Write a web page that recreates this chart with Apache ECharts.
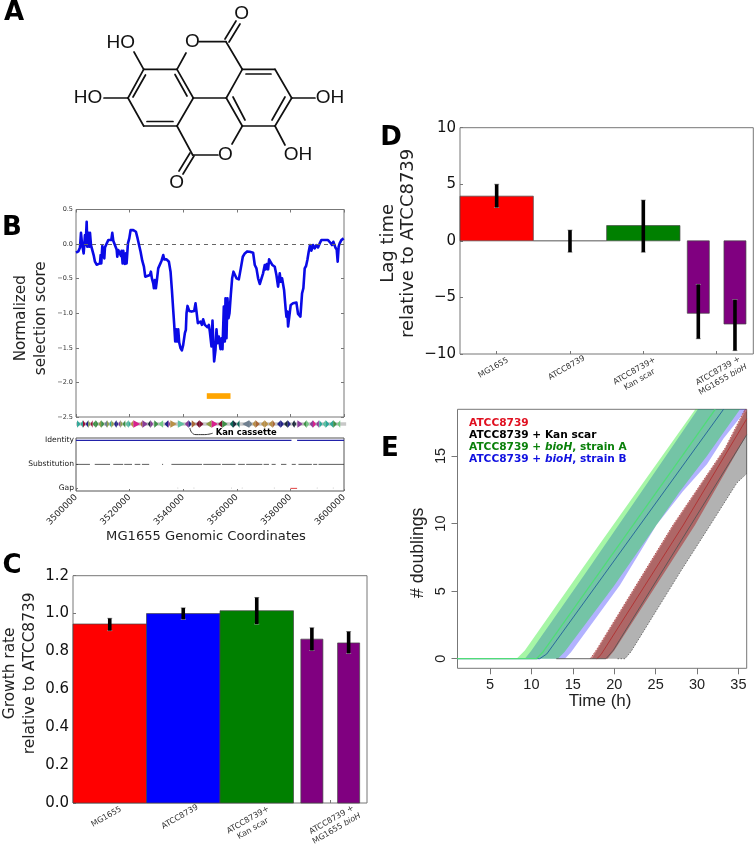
<!DOCTYPE html>
<html><head><meta charset="utf-8">
<style>html,body{margin:0;padding:0;background:#fff}#c{width:754px;height:845px}</style>
<script src="https://cdn.jsdelivr.net/npm/echarts@6/dist/echarts.min.js"></script></head>
<body><div id="c"></div>
<script>
// ---------- Panel B: selection score, [position kb, normalized score]
const scoreTrace=[[3500,-.125],[3500.87,-.106],[3501.49,-.048],[3501.86,.163],[3502.24,.01],[3502.86,-.135],[3503.35,.13],[3503.6,-.014],[3503.98,.322],[3504.22,-.038],[3504.6,.163],[3504.97,-.038],[3505.22,.163],[3505.59,-.014],[3506.09,-.038],[3506.58,-.159],[3507.08,-.255],[3507.7,-.298],[3508.32,-.288],[3508.94,-.279],[3509.19,-.159],[3509.44,-.279],[3509.81,-.029],[3510.19,-.087],[3510.56,-.207],[3510.81,-.048],[3511.43,-.029],[3512.05,.058],[3512.67,.067],[3513.17,.058],[3513.54,.163],[3513.91,.048],[3514.53,.024],[3515.16,-.077],[3515.4,-.183],[3515.78,-.087],[3516.4,-.096],[3516.77,-.173],[3517.02,-.096],[3517.39,-.279],[3517.64,-.096],[3518.01,-.111],[3518.26,-.288],[3518.63,-.135],[3518.88,-.279],[3519.38,.01],[3519.88,.082],[3520.37,.202],[3521.37,.202],[3522.36,.178],[3522.98,.082],[3523.6,.058],[3524.1,-.111],[3524.72,-.24],[3525.34,-.327],[3525.84,-.471],[3526.58,-.447],[3527.58,-.447],[3527.95,-.399],[3528.32,-.495],[3528.82,-.567],[3529.07,-.639],[3529.44,-.519],[3529.81,-.639],[3530.19,-.519],[3530.68,-.351],[3531.3,-.327],[3531.93,-.24],[3532.55,-.159],[3532.92,-.221],[3533.79,-.221],[3534.66,-.255],[3535.28,-.399],[3535.78,-.663],[3536.27,-.952],[3536.65,-1.168],[3537.02,-1.409],[3537.39,-1.231],[3537.76,-1.409],[3538.14,-1.231],[3538.51,-1.423],[3539.01,-1.505],[3539.5,-1.538],[3540,-1.457],[3540.62,-1.288],[3540.99,-1.24],[3541.24,-1],[3541.61,-.894],[3542.24,-.966],[3543.11,-.976],[3544.1,-.966],[3544.6,-.856],[3544.97,-.976],[3545.47,-1.144],[3545.96,-1.168],[3546.46,-1.12],[3546.96,-1.168],[3547.45,-1.087],[3548.07,-1.168],[3548.7,-1.168],[3549.07,-1.202],[3549.57,-1.168],[3549.94,-1.264],[3550.56,-1.481],[3550.93,-1.106],[3551.3,-1.481],[3551.55,-1.697],[3552.05,-1.529],[3552.42,-1.231],[3552.8,-1.433],[3553.29,-1.337],[3553.91,-1.519],[3554.29,-1.361],[3554.66,-1.519],[3555.16,-.904],[3555.53,-1.409],[3555.78,-.784],[3556.15,-1.361],[3556.52,-.784],[3556.89,-1.072],[3557.27,-1],[3557.76,-.736],[3558.26,-.495],[3558.76,-.399],[3559.25,-.375],[3559.88,-.495],[3560.75,-.51],[3561.49,-.351],[3562.24,-.183],[3562.98,-.135],[3563.85,-.106],[3564.84,-.111],[3566.09,-.125],[3566.71,-.303],[3567.33,-.351],[3567.95,-.495],[3568.57,-.577],[3569.19,-.567],[3569.81,-.423],[3570.43,-.303],[3570.81,-.365],[3571.18,-.288],[3571.68,-.365],[3572.05,-.221],[3572.67,-.231],[3573.29,-.303],[3574.16,-.327],[3574.78,-.447],[3575.4,-.615],[3576.02,-.423],[3576.4,-.543],[3576.89,-.495],[3577.64,-.663],[3578.26,-.952],[3578.51,-1.048],[3578.88,-.976],[3579.13,-1.192],[3579.75,-1.192],[3580.12,-.88],[3580.99,-.856],[3582.24,-.846],[3582.86,-1.01],[3583.73,-1.048],[3584.35,-.712],[3584.84,-.639],[3585.34,-.351],[3585.84,-.317],[3586.33,-.231],[3586.83,-.111],[3587.33,-.014],[3587.83,-.096],[3588.45,-.014],[3589.07,-.063],[3589.69,-.014],[3590.31,-.048],[3590.93,.01],[3591.55,.058],[3592.8,.058],[3594.04,.058],[3594.91,.019],[3595.53,-.014],[3596.02,.034],[3596.77,-.048],[3597.27,-.077],[3597.64,-.255],[3598.01,-.038],[3598.39,.01],[3599.01,.058],[3599.88,.082]];
const kanCassetteRegion=[3548.8,3557.65,-2.156,-2.238];
const kanCurve=[[3542.5,4],[3543.2,8.5],[3544.8,10.6],[3548,10.6],[3551.0,9.2]];
// genes: [start kb, end kb, strand, colour]
const t='#2fa898',c='#981038',n='#242488',g='#3f9048',o='#8c9c48',m='#d8208c',b='#a86838',p='#883c98',l='#74c884',T='#b89048',q='#60c0a0',y='#708090',d='#1c2c3c',e='#0c6858',r='#781030';
const genes=[[.4,1.7,1,t],[1.7,2.6,-1,t],[2.6,3.6,1,c],[3.6,4.6,-1,n],[4.6,5.4,1,o],[5.4,6.2,-1,c],[6.2,7.4,-1,g],[7.4,8.4,1,g],[8.4,9.4,-1,o],[9.4,10.6,1,g],[10.6,11.6,-1,y],[11.6,12.4,1,o],[12.4,13.2,-1,t],[13.2,14.2,1,o],[14.2,15,-1,n],[15,15.8,1,n],[15.8,16.6,-1,p],[16.6,17.4,1,o],[17.4,18.4,-1,g],[18.4,19.6,-1,q],[19.6,20.4,1,t],[20.4,21.4,-1,T],[21.4,24,1,m],[24,24.8,-1,b],[24.8,26.8,1,p],[26.8,27.8,-1,d],[27.8,28.8,1,p],[29.2,30.8,1,g],[30.8,32.5,-1,l],[33,34.4,-1,n],[34.4,35.2,1,p],[35.2,37.6,1,T],[38,40.6,1,q],[40.6,42,-1,p],[42,43.2,1,n],[43.2,44.8,1,b],[44.8,46,-1,r],[46,47.6,1,r],[48.4,50.6,-1,o],[50.6,53,1,m],[53,54.6,-1,r],[54.6,56.6,1,g],[57.4,58.6,-1,e],[58.6,60,1,d],[60,61,-1,e],[62,64.6,-1,y],[64.6,65.8,1,y],[65.8,67,-1,T],[67,68.6,1,b],[69,70.4,-1,T],[70.4,71.8,1,T],[71.8,73.4,-1,T],[73.4,74.4,1,b],[75,76.4,-1,n],[76.4,77.6,1,n],[77.6,79,-1,d],[79,80.2,1,n],[80.6,81.4,-1,d],[81.4,82.2,1,d],[82.6,84.6,1,p],[84.8,86,-1,g],[86,87,1,l],[87.2,88.4,-1,p],[88.4,89.6,1,m],[89.6,90.6,-1,p],[90.8,92,1,t],[92,93.2,-1,q],[93.2,94.6,1,t],[94.6,96,-1,t],[96,97.4,1,g],[97.4,98.6,-1,l]];
// alignment rows
const identityRanges=[[3500,3580.4],[3582.5,3600]];
const substitutionRanges=[[3500,3505.2],[3507,3512.7],[3513.9,3517.6],[3518,3520.9],[3521.9,3524],[3524.6,3527.3],[3532.1,3532.5],[3535.6,3547],[3547.5,3554],[3554.5,3559.5],[3560.5,3563],[3563.5,3569.5],[3570,3572],[3573,3574.5],[3576.5,3578.5],[3580.5,3582],[3583,3588],[3588.5,3590],[3590.5,3600]];
const gapRanges=[[3580,3582.5]];
const gapDots=[3538,3544,3558,3562,3574,3590,3596];
const alignmentRows=['Gap','Substitution','Identity'];

// ---------- Panels C and D: bars
const barLeft=[0,1,2,3.1,3.6], barRight=[1,2,3,3.4,3.9], barCentre=[.5,1.5,2.5,3.25,3.75];
const barColours=['#ff0000','#0000ff','#008000','#800080','#800080'];
const strainTicks=[.5,1.5,2.5,3.5];
const NB='\u00a0';
const strainLabels=['MG1655'+NB.repeat(3),'ATCC8739'+NB.repeat(3),'\nATCC8739+'+NB.repeat(8)+'\nKan scar'+NB.repeat(8),'\n\nATCC8739 +'+NB+'\nMG1655 {i|bioH}'+NB];
const growthRate=[.945,1,1.015,.865,.845], growthLow=[.91,.97,.945,.805,.79], growthHigh=[.975,1.03,1.085,.925,.905];
const lagTime=[3.95,0,1.35,-6.4,-7.35], lagLow=[2.95,-1,-1,-8.65,-9.7], lagHigh=[5,.95,3.6,-3.85,-5.2];

// ---------- Panel E: growth curves [time h, doublings]
const greenUpper=[[8.2,0],[9.2,.6],[16.3,6.8],[23,12.6],[29.8,18.46]];
const greenLower=[[13.2,0],[14,.5],[19.9,5.33],[27.95,12.4],[31.2,15],[33.5,17],[35.2,18.46]];
const blueUpper=[[9.2,0],[10,.6],[16.5,6.3],[23,12.1],[30.1,18.46]];
const blueLower=[[14.05,0],[14.8,.5],[20.7,5.46],[25.1,9.9],[28.3,12.4],[31.2,14.4],[33.2,16.3],[36,18.46]];
const redUpper=[[17.1,0],[17.9,.7],[27.1,9.9],[33.4,15.6],[35.8,18.46]];
const redLower=[[19.2,0],[20,.6],[29.76,9.9],[36,16.57],[36,18.46]];
const greyUpper=[[17.3,0],[18,.7],[27.2,9.9],[33.4,15.5],[35.8,18.3]];
const greyLower=[[21.3,0],[22,.5],[27.95,6.4],[31.6,9.9],[34.8,13],[36,13.7],[36,18.3]];
const greyLowerEdge=[[20.4,0],[21.3,0],[22,.5],[27.95,6.4],[31.6,9.9],[34.8,13],[36,13.7]];
const redMedian=[[17.9,0],[18.4,.3],[28.35,9.9],[36,17.75]];
const blackMedian=[[13,0],[19,0],[19.9,.64],[36,16.57]];
const greenMedian=[[1,0],[10.6,0],[11.4,.5],[32.2,18.46]];
const blueMedian=[[1,0],[11,0],[11.85,.35],[33.2,18.46]];

// ---------- Panel A: ellagic acid skeleton drawing units
const molBonds=[[143.7,69.3,177,69.3],[177,69.3,193.3,98],[193.3,98,177,126],[177,126,143.7,126],[143.7,126,128,98],[128,98,143.7,69.3],
[193.3,98,226.3,98],[226.3,98,242.3,69.3],[242.3,69.3,275,69.3],[275,69.3,291.7,98],[291.7,98,275,126],[275,126,242.3,126],[242.3,126,226.3,98],
[145.5,75,133,97],[175,74.5,187,96],[147,121.5,173,121.5],[246,74,271,74],[285,97,272,120],[233,97,245,120],
[177,69.3,186,53],[199,41.7,226,41.7],[226,41.7,242.3,69.3],[225,39,236,21],[229,42,240,24],
[242.3,126,232,144],[218,155,192.7,155],[192.7,155,177,126],[190,153,179,171],[194,156,183,174],
[143.7,69.3,134,52],[128,98,104,98],[291.7,98,315,98],[275,126,285,145]];
const molAtoms=[['HO',120.7,42.3],['HO',88,98],['OH',330,98],['OH',298,155],['O',192.3,41.7],['O',241.7,14],['O',225.3,155],['O',176.7,183]];

// ---------- helpers
const DJ='DejaVu Sans', LS='Liberation Sans';
const grids=[],xAxes=[],yAxes=[],series=[];
const EDGE='#777';
function panel(box,xo,yo,opt){
  opt=opt||{};
  const gi=grids.length;
  grids.push(Object.assign({show:!opt.noBox,outerBoundsMode:'none',borderColor:opt.edge||EDGE,borderWidth:1,backgroundColor:'transparent'},box));
  const base={gridIndex:gi,type:'value',splitLine:{show:false},axisLine:{show:false,onZero:false}};
  const xi=xAxes.length, yi=yAxes.length;
  xAxes.push(Object.assign({},base,{position:'bottom'},xo));
  yAxes.push(Object.assign({},base,{position:'left'},yo));
  if(opt.mirror){
    const hide={axisLabel:{show:false},name:'',position:'top'};
    xAxes.push(Object.assign({},base,xo,hide,{axisTick:{inside:true,length:3,lineStyle:{color:EDGE}}}));
    yAxes.push(Object.assign({},base,yo,hide,{position:'right',axisTick:{inside:true,length:3,lineStyle:{color:EDGE}}}));
  }
  return {xAxisIndex:xi,yAxisIndex:yi};
}
const hiddenAxis={show:false};
const minus=s=>String(s).replace('-','\u2212');
function segments(ranges,row){const out=[];ranges.forEach(r=>{out.push([r[0],row],[r[1],row],[null,null]);});return out;}
function poly(upper,lower){return upper.concat(lower.slice().reverse());}
function bandSeries(ax,upper,lower,fill,z){
  const pts=poly(upper,lower);
  return Object.assign({type:'custom',silent:true,z:z,data:[[0,0]],renderItem(p,api){
    return {type:'polygon',shape:{points:pts.map(q=>api.coord(q))},style:{fill:fill}};
  }},ax);
}

// Panel A
{const ax=panel({left:70,top:0,width:280,height:200},Object.assign({},hiddenAxis,{min:70,max:350}),Object.assign({},hiddenAxis,{min:0,max:200,inverse:true}),{noBox:true});
series.push(Object.assign({type:'custom',silent:true,data:molBonds,renderItem(p,api){
  const a=api.coord([api.value(0),api.value(1)]),b2=api.coord([api.value(2),api.value(3)]);
  return {type:'line',shape:{x1:a[0],y1:a[1],x2:b2[0],y2:b2[1]},style:{stroke:'#111',lineWidth:1.7,lineCap:'round'}};
}},ax));
series.push(Object.assign({type:'custom',silent:true,z:3,data:molAtoms.map(a=>[a[1],a[2],a[0]]),renderItem(p,api){
  const q=api.coord([api.value(0),api.value(1)]);
  return {type:'text',x:q[0],y:q[1],style:{text:molAtoms[p.dataIndex][0],fill:'#111',font:'19px "Liberation Sans"',align:'center',verticalAlign:'middle',backgroundColor:'transparent'}};
}},ax));}

// Panel B top
{const ax=panel({left:76,top:209.5,width:268,height:207.5},
 {min:3500,max:3600,interval:20,axisLabel:{show:false},axisTick:{inside:true,length:3,lineStyle:{color:EDGE}}},
 {min:-2.5,max:.5,interval:.5,axisTick:{inside:true,length:3,lineStyle:{color:EDGE}},
  axisLabel:{fontFamily:DJ,fontSize:6.5,color:'#333',margin:3,formatter:v=>minus(v.toFixed(1))},
  name:'Normalized\nselection score',nameLocation:'middle',nameRotate:90,nameGap:25,
  nameTextStyle:{fontFamily:DJ,fontSize:15.2,color:'#222',lineHeight:20,padding:[0,10,0,0]}},{mirror:true});
series.push(Object.assign({type:'line',name:'Normalized selection score',data:scoreTrace,showSymbol:false,symbol:'none',z:3,lineStyle:{color:'#0a0ae6',width:2.6,join:'round'},
  markLine:{silent:true,symbol:'none',label:{show:false},lineStyle:{color:'#666',type:[4,4],width:1},data:[{yAxis:0}]}},ax));
series.push(Object.assign({type:'custom',silent:true,data:[kanCassetteRegion],renderItem(p,api){
  const a=api.coord([api.value(0),api.value(2)]),b2=api.coord([api.value(1),api.value(3)]);
  return {type:'rect',shape:{x:a[0],y:a[1],width:b2[0]-a[0],height:b2[1]-a[1]},style:{fill:'#ffa500'}};
}},ax));}

// Gene track
{const ax=panel({left:76,top:418,width:268,height:19},Object.assign({},hiddenAxis,{min:3500,max:3600}),Object.assign({},hiddenAxis,{min:-6,max:13,inverse:true}),{noBox:true});
series.push(Object.assign({type:'custom',silent:true,z:1,data:[[3500,3600.8]],renderItem(p,api){
  const a=api.coord([api.value(0),-1.8]),b2=api.coord([api.value(1),1.8]);
  return {type:'rect',shape:{x:a[0],y:a[1],width:b2[0]-a[0],height:b2[1]-a[1]},style:{fill:'#c8c8c8'}};
}},ax));
series.push(Object.assign({type:'custom',silent:true,z:2,data:genes.map(q=>[q[0]+3500,q[1]+3500,q[2]]),renderItem(p,api){
  const s=api.value(0),en=api.value(1),dir=api.value(2),tail=dir>0?s:en,tip=dir>0?en:s;
  return {type:'polygon',shape:{points:[api.coord([tail,-3.8]),api.coord([tip,0]),api.coord([tail,3.8])]},style:{fill:genes[p.dataIndex][3]}};
}},ax));
series.push(Object.assign({type:'line',silent:true,smooth:true,symbol:'none',clip:false,z:2,data:kanCurve,lineStyle:{color:'#333',width:1},
 endLabel:{show:true,formatter:'Kan cassette',fontFamily:DJ,fontWeight:'bold',fontSize:8.4,color:'#000',distance:3}},ax));}

// Alignment rows
{const ax=panel({left:76,top:438,width:268,height:53},
 {min:3500,max:3600,interval:20,axisTick:{inside:true,length:2,lineStyle:{color:EDGE}},
  axisLabel:{rotate:45,fontFamily:DJ,fontSize:8.8,color:'#222',margin:5,formatter:v=>String(v*1000)},
  name:'MG1655 Genomic Coordinates',nameLocation:'middle',nameGap:36,nameTextStyle:{fontFamily:DJ,fontSize:13.1,color:'#222',padding:[0,8,0,0]}},
 {min:-.11,max:2.1,axisTick:{show:true,inside:true,length:2,customValues:[0,1,2],lineStyle:{color:EDGE}},
  axisLabel:{customValues:[0,1,2],fontFamily:DJ,fontSize:7.6,color:'#222',margin:2,formatter:v=>alignmentRows[Math.round(v)]}},{edge:'#555'});
const seg=(ranges,row,col,w)=>Object.assign({type:'line',silent:true,symbol:'none',connectNulls:false,data:segments(ranges,row),lineStyle:{color:col,width:w}},ax);
series.push(seg(identityRanges,2,'#2222aa',1.3));
series.push(seg(substitutionRanges,1,'#333',.8));
series.push(seg(gapRanges,0,'#e04040',1));
series.push(Object.assign({type:'scatter',silent:true,symbolSize:1,data:gapDots.map(v=>[v,.02]),itemStyle:{color:'#aaa'}},ax));}

// Bars
function barPanel(box,yOpt,vals,low,high,cols){
 const ax=panel(box,{min:0,max:4,axisTick:{inside:true,length:3,customValues:strainTicks,lineStyle:{color:EDGE}},
   axisLabel:{customValues:strainTicks,rotate:30,align:'center',verticalAlign:'middle',fontFamily:DJ,fontSize:8,color:'#333',lineHeight:10,margin:12,
     formatter:v=>strainLabels[strainTicks.indexOf(v)]||'',rich:{i:{fontStyle:'italic',fontFamily:DJ,fontSize:8,color:'#333'}}}},yOpt);
 series.push(Object.assign({type:'custom',silent:true,z:2,data:vals.map((v,i)=>[barLeft[i],barRight[i],v]),renderItem(p,api){
   const a=api.coord([api.value(0),0]),b2=api.coord([api.value(1),api.value(2)]);
   if(a[1]===b2[1])return {type:'line',shape:{x1:a[0],y1:a[1],x2:b2[0],y2:a[1]},style:{stroke:'#555',lineWidth:1}};
   return {type:'rect',shape:{x:a[0],y:Math.min(a[1],b2[1]),width:b2[0]-a[0],height:Math.abs(b2[1]-a[1])},style:{fill:cols[p.dataIndex],stroke:'rgba(70,70,70,.7)',lineWidth:1}};
 }},ax));
 series.push(Object.assign({type:'custom',silent:true,z:4,data:vals.map((v,i)=>[barCentre[i],low[i],high[i]]),renderItem(p,api){
   const a=api.coord([api.value(0),api.value(1)]),b2=api.coord([api.value(0),api.value(2)]);
   const cap=q=>({type:'line',shape:{x1:q[0]-2.5,y1:q[1],x2:q[0]+2.5,y2:q[1]},style:{stroke:'#999',lineWidth:1}});
   return {type:'group',children:[cap(a),cap(b2),{type:'line',shape:{x1:a[0],y1:a[1],x2:b2[0],y2:b2[1]},style:{stroke:'#000',lineWidth:3.6}}]};
 }},ax));
}
barPanel({left:73,top:575.7,width:294,height:227.3},
 {min:0,max:1.2,interval:.2,axisTick:{inside:true,length:3,lineStyle:{color:EDGE}},axisLabel:{fontFamily:DJ,fontSize:15,color:'#111',margin:4,formatter:v=>v.toFixed(1)},
  name:'Growth rate\nrelative to ATCC8739',nameLocation:'middle',nameRotate:90,nameGap:33,nameTextStyle:{fontFamily:DJ,fontSize:15.4,color:'#222',lineHeight:20,padding:[0,0,0,32]}},
 growthRate,growthLow,growthHigh,barColours);
barPanel({left:460,top:127.7,width:293.3,height:226.3},
 {min:-10,max:10,interval:5,axisTick:{inside:true,length:3,lineStyle:{color:EDGE}},axisLabel:{fontFamily:DJ,fontSize:15,color:'#111',margin:4,formatter:v=>minus(v)},
  name:'Lag time\nrelative to ATCC8739',nameLocation:'middle',nameRotate:90,nameGap:42,nameTextStyle:{fontFamily:DJ,fontSize:18,color:'#222',lineHeight:20,padding:[0,5,0,0]}},
 lagTime,lagLow,lagHigh,barColours);

// Panel E
{const ax=panel({left:457.5,top:409.3,width:289.2,height:259},
 {min:1.07,max:36,axisTick:{length:6,customValues:[5,10,15,20,25,30,35],lineStyle:{color:EDGE}},
  axisLabel:{customValues:[5,10,15,20,25,30,35],fontFamily:LS,fontSize:14.5,color:'#222',margin:9,hideOverlap:false},
  name:'Time (h)',nameLocation:'middle',nameGap:23,nameTextStyle:{fontFamily:LS,fontSize:17,color:'#222',padding:[0,4,0,0]}},
 {min:-.71,max:18.46,axisTick:{length:6,customValues:[0,5,10,15],lineStyle:{color:EDGE}},
  axisLabel:{customValues:[0,5,10,15],rotate:90,align:'center',fontFamily:LS,fontSize:14.5,color:'#222',margin:9},
  name:'# doublings',nameLocation:'middle',nameRotate:90,nameGap:30,nameTextStyle:{fontFamily:LS,fontSize:17.7,color:'#222',padding:[0,28,0,0]}});
series.push(bandSeries(ax,blueUpper,blueLower,'rgba(0,0,255,.3)',1));
series.push(bandSeries(ax,greenUpper,greenLower,'rgba(0,230,0,.35)',2));
series.push(bandSeries(ax,greyUpper,greyLower,'rgba(0,0,0,.3)',1));
series.push(bandSeries(ax,redUpper,redLower,'rgba(170,0,0,.42)',2));
const med=(name,data,col,w,z,type)=>Object.assign({type:'line',name,data,symbol:'none',silent:true,z,lineStyle:{color:col,width:w,type:type||'solid'}},ax);
series.push(med('grey lower edge',greyLowerEdge,'#555',.8,3,[1.5,1.5]));
series.push(med('red upper edge',redUpper,'#a04040',.8,3,[1.5,1.5]));
series.push(med('ATCC8739 + bioH, strain B',blueMedian,'#20609a',.9,3));
series.push(med('ATCC8739 + bioH, strain A',greenMedian,'#50dc78',1.3,4));
series.push(med('ATCC8739 + Kan scar',blackMedian,'#555',.9,5));
series.push(med('ATCC8739',redMedian,'#b03030',.9,5));}

const letter=(s,x,y)=>({type:'text',x:x,y:y,style:{text:s,font:'bold 26px "DejaVu Sans"',fill:'#000',align:'center',verticalAlign:'middle'}});
const legendItems=[['ATCC8739','#e01020'],['ATCC8739 + Kan scar','#000'],['ATCC8739 + bioH, strain A','#0a800a'],['ATCC8739 + bioH, strain B','#1010e0']];
const chart=echarts.init(document.getElementById('c'),null,{renderer:'canvas'});
chart.setOption({animation:false,backgroundColor:'#fff',grid:grids,xAxis:xAxes,yAxis:yAxes,series:series,
 legend:{show:true,orient:'vertical',left:464,top:417,padding:0,itemGap:0,itemWidth:0,itemHeight:0,icon:'rect',selectedMode:false,
  data:legendItems.map(a=>({name:a[0],textStyle:{color:a[1]}})),
  textStyle:{fontFamily:DJ,fontWeight:'bold',fontSize:10.6,lineHeight:12.2,rich:{
    g:{fontStyle:'italic',fontWeight:'bold',fontFamily:DJ,fontSize:10.6,color:'#0a800a',lineHeight:12.2},
    b:{fontStyle:'italic',fontWeight:'bold',fontFamily:DJ,fontSize:10.6,color:'#1010e0',lineHeight:12.2}}},
  formatter:nm=>nm.replace('bioH',nm.endsWith('A')?'{g|bioH}':'{b|bioH}')},
 graphic:[letter('A',14,13),letter('B',12,228),letter('C',12,566),letter('D',391,138),letter('E',390,449)]});
</script></body></html>
